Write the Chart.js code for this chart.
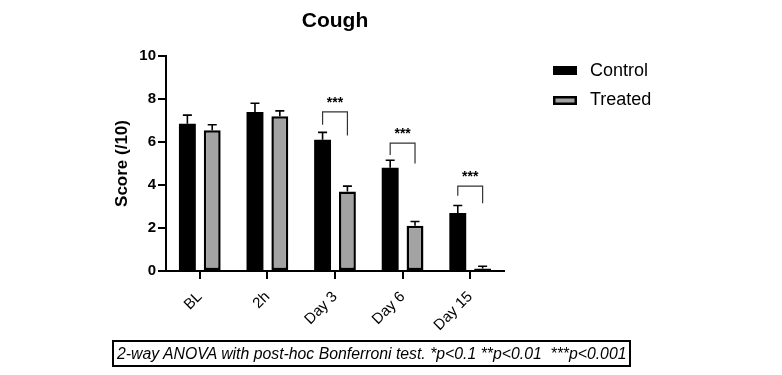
<!DOCTYPE html>
<html>
<head>
<meta charset="utf-8">
<script src="https://cdn.jsdelivr.net/npm/chart.js@4"></script>
<style>
  body { margin: 0; background: #fff; }
  #wrap { position: relative; width: 782px; height: 375px; }
  #note {
    position: absolute; left: 112px; top: 340px; width: 512px; height: 23px;
    border: 2px solid #000; font: italic 15.8px "Liberation Sans", Arial, sans-serif;
    line-height: 23px; padding-left: 3px; white-space: nowrap; color: #000;
  }
</style>
</head>
<body>
<div id="wrap">
  <canvas id="chart" width="782" height="375"></canvas>
  <div id="note">2-way ANOVA with post-hoc Bonferroni test. *p&lt;0.1 **p&lt;0.01&nbsp;&nbsp;***p&lt;0.001</div>
</div>
<script>
const categories = ['BL', '2h', 'Day 3', 'Day 6', 'Day 15'];
const controlMean = [6.85, 7.4, 6.1, 4.8, 2.7];
const controlErr = [0.4, 0.4, 0.35, 0.35, 0.35];
const treatedMean = [6.55, 7.2, 3.7, 2.1, 0.12];
const treatedErr = [0.25, 0.25, 0.25, 0.2, 0.1];
const yTicks = [0, 2, 4, 6, 8, 10];

// significance brackets (category index, label, heights)
const sigIndex = [2, 3, 4];
const sigLabel = ['***', '***', '***'];
const bracketTop = [7.4, 5.95, 3.95];
const bracketLeftEnd = [6.8, 5.4, 3.5];
const bracketRightEnd = [6.3, 5.0, 3.15];

const errs = [controlErr, treatedErr];

// error bars (upward only, with cap) and brackets
const extras = {
    id: 'extras',
    afterDatasetsDraw(chart) {
        const ctx = chart.ctx;
        const y = chart.scales.y;
        const m0 = chart.getDatasetMeta(0).data;
        const m1 = chart.getDatasetMeta(1).data;
        ctx.save();
        ctx.strokeStyle = '#000';
        ctx.lineWidth = 1.6;
        chart.data.datasets.forEach((ds, i) => {
            chart.getDatasetMeta(i).data.forEach((bar, j) => {
                const top = y.getPixelForValue(ds.data[j] + errs[i][j]);
                ctx.beginPath();
                ctx.moveTo(bar.x, bar.y);
                ctx.lineTo(bar.x, top);
                ctx.moveTo(bar.x - 4.5, top);
                ctx.lineTo(bar.x + 4.5, top);
                ctx.stroke();
            });
        });

        ctx.strokeStyle = '#333';
        ctx.lineWidth = 1.2;
        ctx.fillStyle = '#000';
        ctx.font = 'bold 14px "Liberation Sans", Arial, sans-serif';
        ctx.textAlign = 'center';
        ctx.textBaseline = 'middle';
        sigIndex.forEach((c, k) => {
            const x1 = m0[c].x, x2 = m1[c].x;
            const yt = y.getPixelForValue(bracketTop[k]);
            ctx.beginPath();
            ctx.moveTo(x1, y.getPixelForValue(bracketLeftEnd[k]));
            ctx.lineTo(x1, yt);
            ctx.lineTo(x2, yt);
            ctx.lineTo(x2, y.getPixelForValue(bracketRightEnd[k]));
            ctx.stroke();
            ctx.fillText(sigLabel[k], (x1 + x2) / 2, yt - 9);
        });
        ctx.restore();
    }
};

// title, x tick marks and legend, drawn last
const titleAndLegend = {
    id: 'titleAndLegend',
    afterDraw(chart) {
        const ctx = chart.ctx;
        const a = chart.chartArea;
        const xs = chart.scales.x;
        ctx.save();
        ctx.fillStyle = '#000';
        categories.forEach((c, j) => {
            const px = Math.round(xs.getPixelForValue(j));
            ctx.fillRect(px - 1, a.bottom, 2, 8);
        });

        ctx.textAlign = 'center';
        ctx.textBaseline = 'middle';
        ctx.font = 'bold 21px "Liberation Sans", Arial, sans-serif';
        ctx.fillText('Cough', (a.left + a.right) / 2, 21);

        const x = 553;
        ctx.fillRect(x, 66, 24, 9);
        ctx.fillRect(x, 96, 24, 9);
        ctx.fillStyle = '#a3a3a3';
        ctx.fillRect(x + 2.5, 98.5, 19, 4);
        ctx.fillStyle = '#000';
        ctx.textAlign = 'left';
        ctx.font = '18px "Liberation Sans", Arial, sans-serif';
        ctx.fillText('Control', 590, 71);
        ctx.fillText('Treated', 590, 100);
        ctx.restore();
    }
};

const axisFont = { family: '"Liberation Sans", Arial, sans-serif' };

new Chart(document.getElementById('chart'), {
    type: 'bar',
    data: {
        labels: categories,
        datasets: [{
            label: 'Control',
            data: controlMean,
            backgroundColor: '#000',
            borderColor: '#000',
            borderWidth: 0,
            categoryPercentage: 0.735,
            barPercentage: 0.68
        }, {
            label: 'Treated',
            data: treatedMean,
            backgroundColor: '#a3a3a3',
            borderColor: '#000',
            borderWidth: 2.5,
            borderSkipped: false,
            categoryPercentage: 0.735,
            barPercentage: 0.68
        }]
    },
    options: {
        responsive: false,
        animation: false,
        layout: { padding: { left: 108, right: 278, top: 56, bottom: 30 } },
        scales: {
            x: {
                grid: { display: false },
                border: { display: true, color: '#000', width: 2 },
                ticks: {
                    color: '#000', minRotation: 45, maxRotation: 45, padding: 9,
                    font: { ...axisFont, size: 15 }
                },
                afterFit: s => { s.height = 74; }
            },
            y: {
                min: 0, max: 10,
                afterBuildTicks: s => { s.ticks = yTicks.map(v => ({ value: v })); },
                grid: { display: true, drawOnChartArea: false, drawTicks: true, tickLength: 8, color: '#000', lineWidth: 2 },
                border: { color: '#000', width: 2 },
                ticks: { color: '#000', padding: 2, font: { ...axisFont, size: 15, weight: 'bold' } },
                title: { display: true, text: 'Score (/10)', color: '#000', padding: 4, font: { ...axisFont, size: 17, weight: 'bold' } },
                afterFit: s => { s.width = 58; }
            }
        },
        plugins: {
            legend: { display: false },
            tooltip: { enabled: false },
            title: { display: false }
        }
    },
    plugins: [extras, titleAndLegend]
});
</script>
</body>
</html>
